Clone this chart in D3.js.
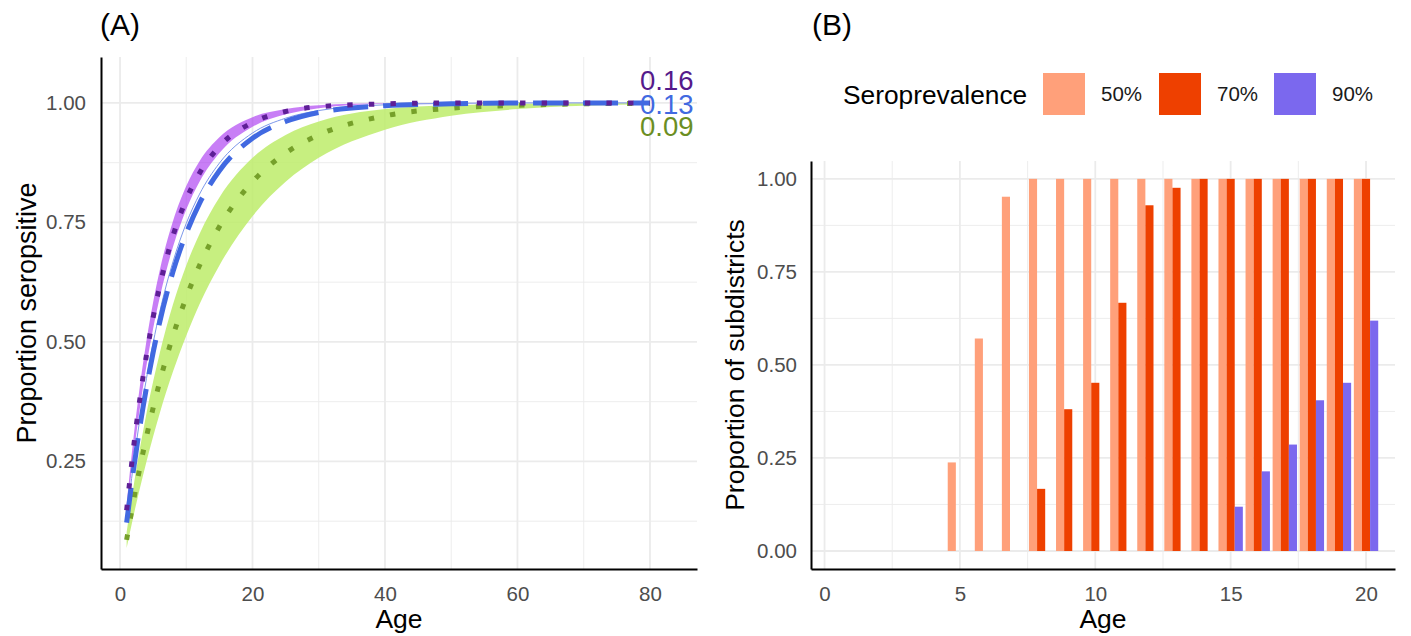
<!DOCTYPE html>
<html>
<head>
<meta charset="utf-8">
<script src="https://cdnjs.cloudflare.com/ajax/libs/d3/7.8.5/d3.min.js"></script>
<style>
  body { margin: 0; background: #fff; }
  svg { font-family: "Liberation Sans", Arial, sans-serif; }
</style>
</head>
<body>
<div id="vis"></div>
<script>
// ---- panel A: proportion seropositive by age ----
var ageA = [1, 2, 3, 4, 5, 6, 8, 10, 12, 15, 20, 25, 30, 40, 50, 60, 70, 80];
var purpleMid = [0.148, 0.274, 0.381, 0.473, 0.551, 0.617, 0.722, 0.798, 0.853, 0.909, 0.959, 0.982, 0.992, 0.998, 1.000, 1.000, 1.000, 1.000];
var purpleLo  = [0.139, 0.259, 0.362, 0.451, 0.528, 0.593, 0.699, 0.777, 0.835, 0.895, 0.950, 0.976, 0.989, 0.998, 0.999, 1.000, 1.000, 1.000];
var purpleHi  = [0.161, 0.295, 0.408, 0.503, 0.583, 0.650, 0.753, 0.826, 0.878, 0.928, 0.970, 0.987, 0.995, 0.999, 1.000, 1.000, 1.000, 1.000];
var blueMid   = [0.122, 0.229, 0.323, 0.405, 0.478, 0.542, 0.647, 0.727, 0.790, 0.858, 0.926, 0.961, 0.980, 0.994, 0.998, 1.000, 1.000, 1.000];
var blueEdge  = [0.129, 0.241, 0.339, 0.424, 0.498, 0.563, 0.668, 0.748, 0.809, 0.874, 0.937, 0.968, 0.984, 0.996, 0.999, 1.000, 1.000, 1.000];
var greenMid  = [0.086, 0.165, 0.237, 0.302, 0.362, 0.417, 0.513, 0.593, 0.660, 0.741, 0.835, 0.895, 0.933, 0.973, 0.989, 0.995, 0.998, 0.999];
var greenLo   = [0.069, 0.134, 0.194, 0.250, 0.302, 0.351, 0.438, 0.513, 0.579, 0.660, 0.763, 0.835, 0.885, 0.944, 0.973, 0.987, 0.994, 0.997];
var greenHi   = [0.102, 0.194, 0.277, 0.351, 0.417, 0.477, 0.579, 0.660, 0.726, 0.802, 0.885, 0.933, 0.961, 0.987, 0.995, 0.998, 0.999, 1.000];
var rateLabels = ["0.16", "0.13", "0.09"];
var rateLabelY = [1.047, 0.997, 0.950];
var xTicksA = [0, 20, 40, 60, 80];
var yTicksA = [0.25, 0.50, 0.75, 1.00];

// ---- panel B: proportion of subdistricts reaching each seroprevalence ----
var ageB = [1, 2, 3, 4, 5, 6, 7, 8, 9, 10, 11, 12, 13, 14, 15, 16, 17, 18, 19, 20];
var sero50 = [0, 0, 0, 0, 0.238, 0.571, 0.952, 1, 1, 1, 1, 1, 1, 1, 1, 1, 1, 1, 1, 1];
var sero70 = [0, 0, 0, 0, 0, 0, 0, 0.167, 0.381, 0.452, 0.667, 0.929, 0.976, 1, 1, 1, 1, 1, 1, 1];
var sero90 = [0, 0, 0, 0, 0, 0, 0, 0, 0, 0, 0, 0, 0, 0, 0.119, 0.214, 0.286, 0.405, 0.452, 0.619];
var seroLevels = ["50%", "70%", "90%"];
var xTicksB = [0, 5, 10, 15, 20];
var yTicksB = [0, 0.25, 0.50, 0.75, 1.00];

var width = 1411, height = 636;
var grid = "#ebebeb", tickCol = "#4d4d4d";

var svg = d3.select("#vis").append("svg")
    .attr("width", width)
    .attr("height", height);

// ================= Panel A =================
var xA = d3.scaleLinear().domain([-2.87, 87.1]).range([101, 697]);
var yA = d3.scaleLinear().domain([0.025, 1.096]).range([569, 57]);

var gA = svg.append("g");

// minor grid
gA.selectAll(".minorx").data([10, 30, 50, 70]).enter().append("line")
    .attr("x1", d => xA(d)).attr("x2", d => xA(d))
    .attr("y1", 57).attr("y2", 569)
    .attr("stroke", grid).attr("stroke-width", 0.9);
gA.selectAll(".minory").data([0.125, 0.375, 0.625, 0.875]).enter().append("line")
    .attr("x1", 101).attr("x2", 697)
    .attr("y1", d => yA(d)).attr("y2", d => yA(d))
    .attr("stroke", grid).attr("stroke-width", 0.9);
// major grid
gA.selectAll(".majorx").data(xTicksA).enter().append("line")
    .attr("x1", d => xA(d)).attr("x2", d => xA(d))
    .attr("y1", 57).attr("y2", 569)
    .attr("stroke", grid).attr("stroke-width", 1.8);
gA.selectAll(".majory").data(yTicksA).enter().append("line")
    .attr("x1", 101).attr("x2", 697)
    .attr("y1", d => yA(d)).attr("y2", d => yA(d))
    .attr("stroke", grid).attr("stroke-width", 1.8);

var band = function(lo, hi) {
    return d3.area()
        .x((d, i) => xA(ageA[i]))
        .y0((d, i) => yA(lo[i]))
        .y1((d, i) => yA(hi[i]))
        .curve(d3.curveMonotoneX)(ageA);
};
var curve = function(vals) {
    return d3.line()
        .x((d, i) => xA(ageA[i]))
        .y((d, i) => yA(vals[i]))
        .curve(d3.curveMonotoneX)(ageA);
};

gA.append("path").attr("d", band(greenLo, greenHi))
    .attr("fill", "#bdec6a").attr("fill-opacity", 0.85);
gA.append("path").attr("d", band(purpleLo, purpleHi))
    .attr("fill", "#A020F0").attr("fill-opacity", 0.58);
gA.append("path").attr("d", curve(blueEdge))
    .attr("fill", "none").attr("stroke", "#7d98ea").attr("stroke-width", 1);

gA.append("path").attr("d", curve(greenMid))
    .attr("fill", "none").attr("stroke", "#76a02a").attr("stroke-width", 5)
    .attr("stroke-dasharray", "5.4 16.2");
gA.append("path").attr("d", curve(blueMid))
    .attr("fill", "none").attr("stroke", "#4169E1").attr("stroke-width", 5)
    .attr("stroke-dasharray", "35 15");
gA.append("path").attr("d", curve(purpleMid))
    .attr("fill", "none").attr("stroke", "#5e1f96").attr("stroke-width", 5)
    .attr("stroke-dasharray", "5.4 16.2");

var rateCols = ["#551A8B", "#4169E1", "#6B8E23"];
gA.selectAll(".rate").data(rateLabels).enter().append("text")
    .attr("x", xA(78.5))
    .attr("y", (d, i) => yA(rateLabelY[i]))
    .attr("dy", "0.35em")
    .attr("font-size", 27.5)
    .attr("fill", (d, i) => rateCols[i])
    .text(d => d);

var axAx = gA.append("g")
    .attr("transform", "translate(0,569)")
    .call(d3.axisBottom(xA).tickValues(xTicksA).tickSize(0).tickPadding(17).tickFormat(d3.format("d")));
var axAy = gA.append("g")
    .attr("transform", "translate(101,0)")
    .call(d3.axisLeft(yA).tickValues(yTicksA).tickSize(0).tickPadding(15).tickFormat(d3.format(".2f")));
[axAx, axAy].forEach(function(g) {
    g.select(".domain").attr("stroke", "#000").attr("stroke-width", 2);
    g.selectAll("text").attr("font-size", 20.5).attr("fill", tickCol)
        .attr("font-family", "Liberation Sans, Arial, sans-serif");
});

gA.append("text").attr("x", 399).attr("y", 628)
    .attr("text-anchor", "middle").attr("font-size", 26.5).text("Age");
gA.append("text")
    .attr("transform", "translate(27,313) rotate(-90)")
    .attr("dy", "0.35em")
    .attr("text-anchor", "middle").attr("font-size", 27)
    .text("Proportion seropsitive");
gA.append("text").attr("x", 100).attr("y", 35)
    .attr("font-size", 30).text("(A)");

// ================= Panel B =================
var xB = d3.scaleLinear().domain([-0.5, 21.07]).range([811, 1395]);
var yB = d3.scaleLinear().domain([-0.0484, 1.048]).range([569, 161]);
var colB = d3.scaleOrdinal().domain(seroLevels).range(["#FFA07A", "#EE4000", "#7B68EE"]);
var unit = xB(1) - xB(0);
var dodge = d3.scaleBand().domain(seroLevels).range([-0.45 * unit, 0.45 * unit]);

var gB = svg.append("g");

gB.selectAll(".minorx").data([2.5, 7.5, 12.5, 17.5]).enter().append("line")
    .attr("x1", d => xB(d)).attr("x2", d => xB(d))
    .attr("y1", 161).attr("y2", 569)
    .attr("stroke", grid).attr("stroke-width", 0.9);
gB.selectAll(".minory").data([0.125, 0.375, 0.625, 0.875]).enter().append("line")
    .attr("x1", 811).attr("x2", 1395)
    .attr("y1", d => yB(d)).attr("y2", d => yB(d))
    .attr("stroke", grid).attr("stroke-width", 0.9);
gB.selectAll(".majorx").data(xTicksB).enter().append("line")
    .attr("x1", d => xB(d)).attr("x2", d => xB(d))
    .attr("y1", 161).attr("y2", 569)
    .attr("stroke", grid).attr("stroke-width", 1.8);
gB.selectAll(".majory").data(yTicksB).enter().append("line")
    .attr("x1", 811).attr("x2", 1395)
    .attr("y1", d => yB(d)).attr("y2", d => yB(d))
    .attr("stroke", grid).attr("stroke-width", 1.8);

var barData = [];
ageB.forEach(function(a, i) {
    [sero50[i], sero70[i], sero90[i]].forEach(function(v, j) {
        if (v > 0) barData.push({ age: a, level: seroLevels[j], value: v });
    });
});

gB.selectAll(".bar").data(barData).enter().append("rect")
    .attr("class", "bar")
    .attr("x", d => xB(d.age) + dodge(d.level))
    .attr("width", dodge.bandwidth())
    .attr("y", d => yB(d.value))
    .attr("height", d => yB(0) - yB(d.value))
    .attr("fill", d => colB(d.level));

var axBx = gB.append("g")
    .attr("transform", "translate(0,569)")
    .call(d3.axisBottom(xB).tickValues(xTicksB).tickSize(0).tickPadding(17).tickFormat(d3.format("d")));
var axBy = gB.append("g")
    .attr("transform", "translate(811,0)")
    .call(d3.axisLeft(yB).tickValues(yTicksB).tickSize(0).tickPadding(14).tickFormat(d3.format(".2f")));
[axBx, axBy].forEach(function(g) {
    g.select(".domain").attr("stroke", "#000").attr("stroke-width", 2);
    g.selectAll("text").attr("font-size", 20.5).attr("fill", tickCol)
        .attr("font-family", "Liberation Sans, Arial, sans-serif");
});

gB.append("text").attr("x", 1103).attr("y", 628)
    .attr("text-anchor", "middle").attr("font-size", 26.5).text("Age");
gB.append("text")
    .attr("transform", "translate(735,365) rotate(-90)")
    .attr("dy", "0.35em")
    .attr("text-anchor", "middle").attr("font-size", 26.5)
    .text("Proportion of subdistricts");
gB.append("text").attr("x", 812).attr("y", 35)
    .attr("font-size", 30).text("(B)");

// legend
var legend = gB.append("g");
legend.append("text").attr("x", 843).attr("y", 104)
    .attr("font-size", 26.3).text("Seroprevalence");
var keyX = [1043, 1159, 1274];
var keys = legend.selectAll(".key").data(seroLevels).enter().append("g")
    .attr("transform", (d, i) => "translate(" + keyX[i] + ",73)");
keys.append("rect")
    .attr("width", 42).attr("height", 42)
    .attr("fill", d => colB(d));
keys.append("text")
    .attr("x", 58).attr("y", 21).attr("dy", "0.35em")
    .attr("font-size", 20.5).attr("fill", "#1a1a1a")
    .text(d => d);
</script>
</body>
</html>
